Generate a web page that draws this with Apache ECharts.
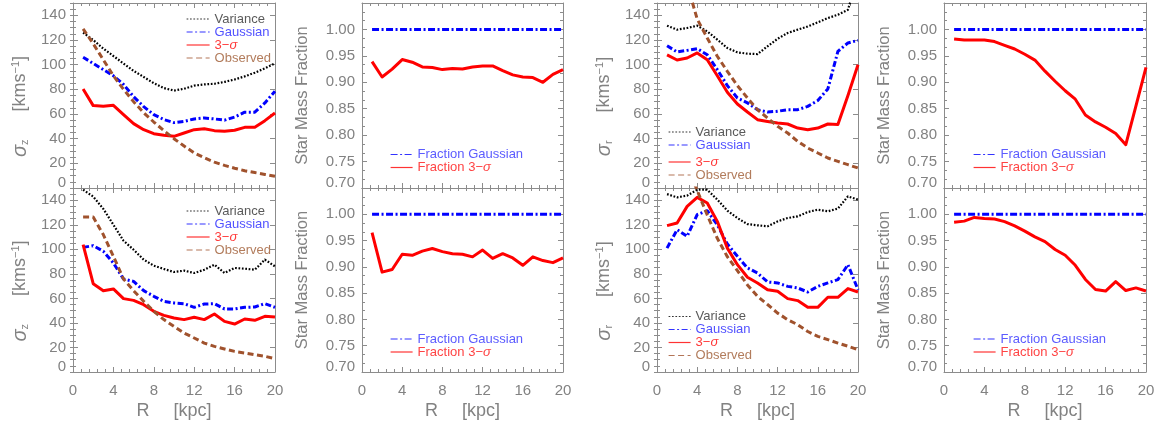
<!DOCTYPE html>
<html>
<head>
<meta charset="utf-8">
<script src="https://cdn.jsdelivr.net/npm/echarts@6/dist/echarts.min.js"></script>
<style>
  html, body { margin: 0; padding: 0; background: #ffffff; }
  #chart { width: 1161px; height: 425px; }
</style>
</head>
<body>
<div id="chart"></div>
<script>
// ---- data -------------------------------------------------------------
const radius = [1, 2, 3, 4, 5, 6, 7, 8, 9, 10, 11, 12, 13, 14, 15, 16, 17, 18, 19, 20];

const radiusTicks = [0, 4, 8, 12, 16, 20];
const sigmaTicks = [0, 20, 40, 60, 80, 100, 120, 140];
const fractionTicks = [0.70, 0.75, 0.80, 0.85, 0.90, 0.95, 1.00];

// vertical dispersion, upper sample
const varianceZ1   = [126, 120, 113, 107, 101, 95, 90, 85, 81, 79, 80.5, 83, 84, 84.5, 86, 88, 90.5, 93.5, 97, 101];
const gaussianZ1   = [106, 101, 96, 91, 84, 74, 66, 59.5, 55.5, 53, 54, 56, 56.8, 56, 55, 57.5, 61.5, 61.5, 69, 78.5];
const threeSigmaZ1 = [80.3, 66.8, 66.2, 67, 59.5, 52.2, 47.3, 44, 42.7, 41.9, 44.6, 47.3, 48.1, 46.5, 46, 46.8, 49.2, 49.2, 54.6, 60.8];
const observedZ1   = [129, 117, 104, 91, 80, 70, 61, 53.5, 46.5, 40, 34, 28.5, 24.5, 21, 18.3, 16, 14, 12.5, 11, 9.5];

// vertical dispersion, lower sample
const varianceZ2   = [148.6, 143, 133, 120, 107, 99.7, 91.6, 86.7, 84, 81.5, 82.6, 80.7, 83.4, 87.5, 80.7, 84.8, 84.2, 83.4, 91.6, 86.1];
const gaussianZ2   = [101.6, 103, 98.4, 88.9, 75.8, 73.9, 66.3, 61.7, 57.6, 56.3, 55.7, 52.7, 55.4, 55.7, 51.4, 51.4, 52.7, 53, 55.7, 52.7];
const threeSigmaZ2 = [103.8, 72, 66.3, 67.7, 59.8, 58.4, 54.9, 49.5, 46.2, 44, 42.7, 44.6, 42.7, 47.3, 41.3, 39.1, 43.2, 42.1, 45.4, 44.8];
const observedZ2   = [126.4, 126.4, 112, 94.3, 75.8, 66.3, 57.6, 49.5, 42.7, 37.2, 31.8, 27.7, 23.6, 20.9, 18.8, 16.8, 15.5, 14.1, 12.8, 10.9];

// radial dispersion, upper sample
const varianceR1   = [131.6, 128.4, 129.7, 131.6, 127, 120.3, 113.5, 110, 108.9, 108.6, 114.9, 121, 125.7, 128.4, 131, 134.3, 137.8, 140.5, 144.5, 172];
const gaussianR1   = [115.4, 110.3, 111.6, 113, 108, 96, 83, 73, 69, 63.5, 61.6, 62.2, 63.5, 63.5, 66.2, 71, 80.3, 110.8, 117.6, 119.7];
const threeSigmaR1 = [108, 103.8, 105.4, 109.5, 104, 91, 77.6, 68.1, 61.6, 55.4, 54, 52.7, 51.9, 48.6, 47.3, 48.6, 51.9, 51.4, 75, 100];
const observedR1   = [null, null, 165, 137, 121.6, 106.8, 94.6, 83, 73, 63.5, 56.8, 50, 44.6, 37.8, 32.4, 28.4, 24.3, 21.6, 18.9, 16.2];

// radial dispersion, lower sample
const varianceR2   = [145, 142.4, 143.8, 148.6, 148.6, 140.5, 131.5, 125.5, 120.6, 119.6, 118.8, 122.8, 125.5, 126.9, 130.4, 132.3, 131, 133.2, 143.2, 140.5];
const gaussianR2   = [101, 116, 110.6, 128.3, 131.5, 120, 104.3, 94.3, 84.8, 80.7, 73.4, 72.6, 69.8, 68.5, 65.2, 69.8, 72.6, 75.3, 87.5, 67.1];
const threeSigmaR2 = [119.3, 121.5, 135, 142.4, 137.8, 122.8, 101, 87.5, 77.2, 72.6, 67, 65.8, 59.8, 58.2, 52.7, 52.7, 60.9, 60.9, 68, 65.2];
const observedR2   = [null, null, 168, 148, 128, 109, 94, 82.6, 71, 61.7, 55, 48, 42.7, 38.6, 33, 29, 26.4, 23.6, 21, 18.2];

// retained star mass fractions
const fractionGaussian = [1, 1, 1, 1, 1, 1, 1, 1, 1, 1, 1, 1, 1, 1, 1, 1, 1, 1, 1, 1];
const fraction3SigmaZ1 = [0.939, 0.910, 0.925, 0.943, 0.938, 0.929, 0.928, 0.924, 0.926, 0.925, 0.929, 0.931, 0.931, 0.922, 0.914, 0.910, 0.909, 0.900, 0.915, 0.924];
const fraction3SigmaZ2 = [0.965, 0.890, 0.895, 0.924, 0.922, 0.930, 0.935, 0.929, 0.925, 0.924, 0.919, 0.932, 0.916, 0.925, 0.917, 0.903, 0.919, 0.912, 0.908, 0.917];
const fraction3SigmaR1 = [0.982, 0.980, 0.980, 0.980, 0.977, 0.970, 0.963, 0.953, 0.942, 0.921, 0.902, 0.884, 0.868, 0.838, 0.825, 0.815, 0.803, 0.782, 0.855, 0.928];
const fraction3SigmaR2 = [0.985, 0.987, 0.994, 0.992, 0.991, 0.986, 0.978, 0.968, 0.957, 0.948, 0.933, 0.922, 0.903, 0.876, 0.857, 0.854, 0.872, 0.855, 0.860, 0.854];

// ---- styles -----------------------------------------------------------
const FONT = '"Liberation Sans", Arial, Helvetica, sans-serif';
const AXIS_GRAY = '#8c8c8c';
const TEXT_GRAY = '#828282';

const lineStyles = {
  'Variance':          { color: '#000000', width: 2.2, type: [1.7, 1.7] },
  'Gaussian':          { color: '#0000ff', width: 3,   type: [6, 2.5, 2, 2.5] },
  '3−σ':               { color: '#ff0000', width: 3,   type: 'solid' },
  'Observed':          { color: '#a0522d', width: 3,   type: [6, 3.5] },
  'Fraction Gaussian': { color: '#0000ff', width: 3,   type: [7, 2.5, 2, 2.5] },
  'Fraction 3−σ':      { color: '#ff0000', width: 3,   type: 'solid' }
};
const legendTextColors = {
  'Variance': '#5a5a5a', 'Gaussian': '#5252ff', '3−σ': '#ff3a3a', 'Observed': '#b27c5c',
  'Fraction Gaussian': '#5c5cff', 'Fraction 3−σ': '#ff4444'
};

const columns = [
  { left: 73,  width: 202 }, { left: 362, width: 201 },
  { left: 657, width: 201 }, { left: 944, width: 202 }
];
const rowsLayout = [{ top: 3, height: 185 }, { top: 188, height: 184 }];

// panel layout: kind, series arrays, legend placement
const panels = [
  { row: 0, col: 0, kind: 'sigma', comp: 'z', data: [varianceZ1, gaussianZ1, threeSigmaZ1, observedZ1],
    legends: [{ names: ['Variance', 'Gaussian', '3−σ', 'Observed'], left: 186, top: 12.5, w: 23 }] },
  { row: 0, col: 1, kind: 'fraction', data: [fractionGaussian, fraction3SigmaZ1],
    legends: [{ names: ['Fraction Gaussian', 'Fraction 3−σ'], left: 390, top: 148, w: 22 }] },
  { row: 0, col: 2, kind: 'sigma', comp: 'r', data: [varianceR1, gaussianR1, threeSigmaR1, observedR1],
    legends: [{ names: ['Variance', 'Gaussian'], left: 668, top: 125.5, w: 22 },
              { names: ['3−σ', 'Observed'], left: 668, top: 155.5, w: 22 }] },
  { row: 0, col: 3, kind: 'fraction', data: [fractionGaussian, fraction3SigmaR1],
    legends: [{ names: ['Fraction Gaussian', 'Fraction 3−σ'], left: 973, top: 148, w: 22 }] },
  { row: 1, col: 0, kind: 'sigma', comp: 'z', data: [varianceZ2, gaussianZ2, threeSigmaZ2, observedZ2],
    legends: [{ names: ['Variance', 'Gaussian', '3−σ', 'Observed'], left: 186, top: 204.5, w: 23 }] },
  { row: 1, col: 1, kind: 'fraction', data: [fractionGaussian, fraction3SigmaZ2],
    legends: [{ names: ['Fraction Gaussian', 'Fraction 3−σ'], left: 390, top: 332.5, w: 22 }] },
  { row: 1, col: 2, kind: 'sigma', comp: 'r', data: [varianceR2, gaussianR2, threeSigmaR2, observedR2],
    legends: [{ names: ['Variance', 'Gaussian', '3−σ', 'Observed'], left: 668, top: 310, w: 22 }] },
  { row: 1, col: 3, kind: 'fraction', data: [fractionGaussian, fraction3SigmaR2],
    legends: [{ names: ['Fraction Gaussian', 'Fraction 3−σ'], left: 973, top: 332.5, w: 22 }] }
];

const sigmaNames = ['Variance', 'Gaussian', '3−σ', 'Observed'];
const fractionNames = ['Fraction Gaussian', 'Fraction 3−σ'];

// ---- option assembly --------------------------------------------------
const grid = [], xAxis = [], yAxis = [], series = [], legend = [];

const tickLine = { lineStyle: { color: AXIS_GRAY, width: 1 } };
const axisLineStyle = { show: true, onZero: false, lineStyle: { color: AXIS_GRAY, width: 1 } };
const labelFont = { color: TEXT_GRAY, fontSize: 15, fontFamily: FONT };

// the lowest tick label sits a few pixels above its tick
function lowLabel(text) { return '{lo|' + text + '}'; }
const lowRich = { lo: { color: TEXT_GRAY, fontSize: 15, fontFamily: FONT, padding: [0, 0, 10, 0] } };

panels.forEach((p, gi) => {
  grid.push({ left: columns[p.col].left, width: columns[p.col].width,
              top: rowsLayout[p.row].top, height: rowsLayout[p.row].height });
  const bottomRow = p.row === 1;

  // x axes: bottom (labels on lower row) and top (ticks only)
  ['bottom', 'top'].forEach(pos => {
    const labelled = bottomRow && pos === 'bottom';
    xAxis.push({
      gridIndex: gi, type: 'value', position: pos,
      min: radiusTicks[0], max: radiusTicks[radiusTicks.length - 1],
      interval: radiusTicks[1] - radiusTicks[0],
      axisLine: axisLineStyle,
      axisTick: Object.assign({ show: true, inside: true, length: 5 }, tickLine),
      minorTick: Object.assign({ show: true, splitNumber: 5, length: 3 }, tickLine),
      splitLine: { show: false }, minorSplitLine: { show: false },
      axisLabel: Object.assign({ show: labelled, margin: 11 }, labelFont),
      name: labelled ? '{t|R}{gap| }{t|[kpc]}' : '',
      nameLocation: 'middle', nameGap: 30,
      nameTextStyle: { color: TEXT_GRAY, fontSize: 17, fontFamily: FONT,
        rich: { t: { color: TEXT_GRAY, fontSize: 18, fontFamily: FONT }, gap: { width: 24 } } }
    });
  });
  const xBottom = xAxis.length - 2;

  let yMain;
  if (p.kind === 'sigma') {
    const step = sigmaTicks[1] - sigmaTicks[0];
    ['left', 'right'].forEach(pos => {
      yAxis.push({
        gridIndex: gi, type: 'value', position: pos, min: sigmaTicks[0], max: 150, interval: step,
        axisLine: axisLineStyle,
        axisTick: Object.assign({ show: true, inside: true, length: 5 }, tickLine),
        splitLine: { show: false },
        axisLabel: Object.assign({
          show: pos === 'left', margin: 7, showMaxLabel: false,
          formatter: v => sigmaTicks.indexOf(v) < 0 ? '' : (v === sigmaTicks[0] ? lowLabel(v) : String(v)),
          rich: lowRich
        }, labelFont),
        name: pos === 'left'
          ? '{g|σ}{sb|' + p.comp + '}{gap| }{t|[kms}{sp|−1}{t|]}' : '',
        nameLocation: 'middle', nameGap: 43,
        nameTextStyle: { color: TEXT_GRAY, fontSize: 17, fontFamily: FONT, padding: [0, 22, 0, 0],
          rich: {
            g:  { color: TEXT_GRAY, fontSize: 20, fontStyle: 'italic', fontFamily: FONT },
            sb: { color: TEXT_GRAY, fontSize: 11, fontFamily: FONT, verticalAlign: 'bottom' },
            gap: { width: 28 },
            t:  { color: TEXT_GRAY, fontSize: 18, fontFamily: FONT },
            sp: { color: TEXT_GRAY, fontSize: 11, fontFamily: FONT, verticalAlign: 'top' }
          } }
      });
      if (pos === 'left') yMain = yAxis.length - 1;
      // minor ticks every 5 km/s
      yAxis.push({
        gridIndex: gi, type: 'value', position: pos, min: sigmaTicks[0], max: 150, interval: step / 4,
        axisLine: { show: false },
        axisTick: Object.assign({ show: true, inside: true, length: 3 }, tickLine),
        axisLabel: { show: false }, splitLine: { show: false }
      });
    });
    sigmaNames.forEach((name, k) => {
      series.push({
        type: 'line', name, xAxisIndex: xBottom, yAxisIndex: yMain,
        data: radius.map((r, i) => [r, p.data[k][i]]),
        symbol: 'none', clip: true, connectNulls: false, silent: true,
        lineStyle: Object.assign({ cap: 'butt', join: 'round' }, lineStyles[name])
      });
    });
  } else {
    const step = 0.05;
    ['left', 'right'].forEach(pos => {
      yAxis.push({
        gridIndex: gi, type: 'value', position: pos, min: fractionTicks[0], max: 1.05, interval: step,
        axisLine: axisLineStyle,
        axisTick: Object.assign({ show: true, inside: true, length: 5 }, tickLine),
        minorTick: Object.assign({ show: true, splitNumber: 3, length: 3 }, tickLine),
        splitLine: { show: false }, minorSplitLine: { show: false },
        axisLabel: Object.assign({
          show: pos === 'left', margin: 7, showMaxLabel: false,
          formatter: v => {
            if (v > fractionTicks[fractionTicks.length - 1] + 1e-6) return '';
            const s = v.toFixed(2);
            return Math.abs(v - fractionTicks[0]) < 1e-6 ? lowLabel(s) : s;
          },
          rich: lowRich
        }, labelFont),
        name: pos === 'left' ? 'Star Mass Fraction' : '',
        nameLocation: 'middle', nameGap: 51,
        nameTextStyle: { color: TEXT_GRAY, fontSize: 16.5, fontFamily: FONT }
      });
      if (pos === 'left') yMain = yAxis.length - 1;
    });
    fractionNames.forEach((name, k) => {
      series.push({
        type: 'line', name, xAxisIndex: xBottom, yAxisIndex: yMain,
        data: radius.map((r, i) => [r, p.data[k][i]]),
        symbol: 'none', clip: true, silent: true,
        lineStyle: Object.assign({ cap: 'butt', join: 'round' }, lineStyles[name])
      });
    });
  }

  p.legends.forEach(L => {
    legend.push({
      orient: 'vertical', left: L.left, top: L.top,
      itemWidth: L.w, itemHeight: 10, itemGap: 0, padding: 0,
      selectedMode: false,
      lineStyle: { width: 1.2, opacity: 0.8 },
      itemStyle: { opacity: 0 },
      formatter: n => n.replace('σ', '{i|σ}'),
      textStyle: { fontSize: 13, lineHeight: 13, fontFamily: FONT,
        rich: { i: { fontSize: 13, fontStyle: 'italic', fontFamily: FONT } } },
      data: L.names.map(n => ({ name: n, textStyle: { color: legendTextColors[n],
        rich: { i: { color: legendTextColors[n], fontSize: 13, fontStyle: 'italic', fontFamily: FONT } } } }))
    });
  });
});

const chart = echarts.init(document.getElementById('chart'), null, { renderer: 'canvas' });
chart.setOption({
  backgroundColor: '#ffffff',
  animation: false,
  grid, xAxis, yAxis, series, legend
});
</script>
</body>
</html>
